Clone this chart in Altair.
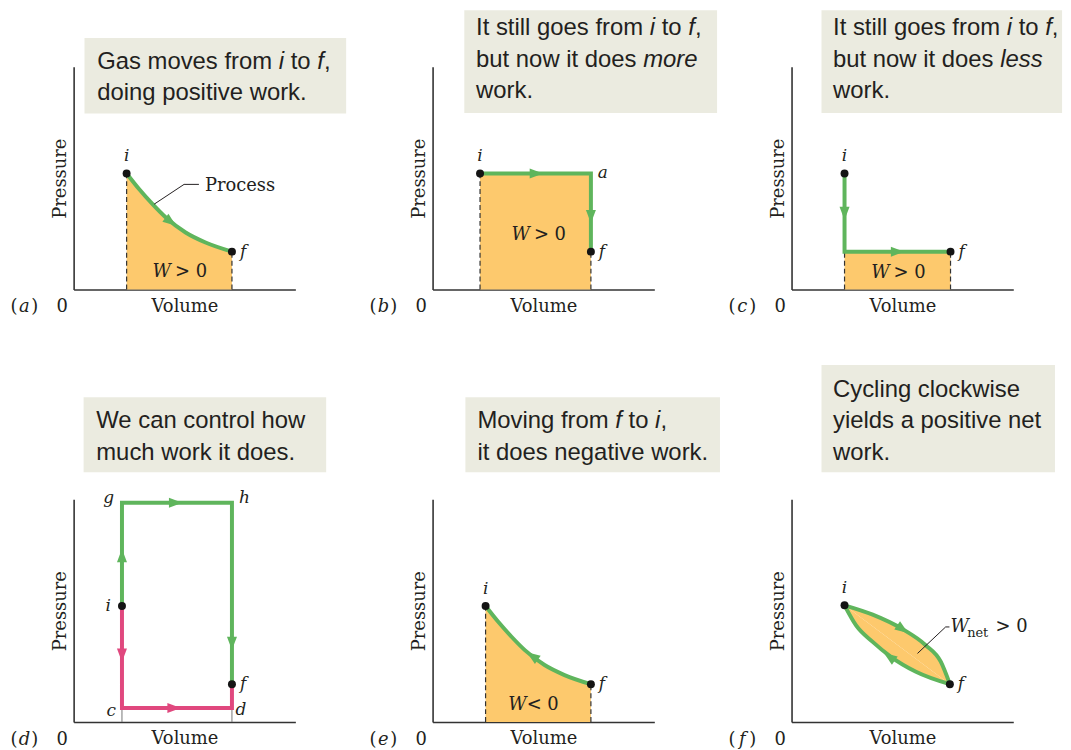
import altair as alt
import pandas as pd

# ------------------------------------------------------------------ data
PANELS = ["a", "b", "c", "d", "e", "f"]

# labelled states (Volume, Pressure in arbitrary units 0..10); dot drawn?
state_panel = ["a", "a", "b", "b", "b", "c", "c", "d", "d", "d", "d", "d", "d", "e", "e", "f", "f"]
state_name = ["i", "f", "i", "a", "f", "i", "f", "i", "f", "g", "h", "c", "d", "i", "f", "i", "f"]
state_V = [2.39, 7.14, 2.14, 7.14, 7.14, 2.39, 7.17, 2.18, 7.14, 2.18, 7.14, 2.18, 7.14, 2.39, 7.14, 2.39, 7.14]
state_P = [5.21, 1.70, 5.21, 5.21, 1.70, 5.21, 1.70, 5.21, 1.70, 9.85, 9.85, 0.63, 0.63, 5.21, 1.70, 5.24, 1.70]
state_dot = [1, 1, 1, 0, 1, 1, 1, 1, 1, 0, 0, 0, 0, 1, 1, 1, 1]

# curved process of panels (a) and (e)
iso_V = [2.39, 2.96, 3.56, 4.16, 5.05, 5.95, 7.14]
iso_P = [5.21, 4.50, 3.83, 3.23, 2.56, 2.11, 1.70]

# straight-segment processes (b), (c), (d)
path_panel = ["b", "b", "b", "c", "c", "c", "d", "d", "d", "d", "d", "d", "d", "d"]
path_id = ["b", "b", "b", "c", "c", "c", "dg", "dg", "dg", "dg", "dp", "dp", "dp", "dp"]
path_col = ["g", "g", "g", "g", "g", "g", "g", "g", "g", "g", "p", "p", "p", "p"]
path_V = [2.14, 7.14, 7.14, 2.39, 2.39, 7.17, 2.18, 2.18, 7.14, 7.14, 2.18, 2.18, 7.14, 7.14]
path_P = [5.21, 5.21, 1.70, 5.21, 1.70, 1.70, 5.21, 9.85, 9.85, 1.70, 5.21, 0.63, 0.63, 1.70]

# cycle of panel (f): upper branch i->f, lower branch f->i
cyc_up_V = [2.39, 3.66, 5.01, 6.05, 6.73, 7.14]
cyc_up_P = [5.24, 4.82, 4.17, 3.45, 2.71, 1.70]
cyc_lo_V = [2.39, 2.91, 3.66, 4.48, 5.61, 7.14]
cyc_lo_P = [5.24, 4.34, 3.60, 2.93, 2.26, 1.70]

# direction arrows (heading in degrees, clockwise from up)
arr_panel = ["a", "b", "b", "c", "c", "d", "d", "d", "d", "d", "e", "f", "f"]
arr_V = [4.38, 4.68, 7.14, 2.39, 4.78, 2.18, 4.60, 7.14, 2.18, 4.53, 4.50, 5.01, 4.41]
arr_P = [3.04, 5.21, 3.27, 3.42, 1.70, 7.47, 9.85, 3.53, 3.00, 0.63, 2.96, 4.17, 2.93]
arr_heading = [127, 90, 180, 180, 90, 0, 90, 180, 180, 90, 305, 125, 305]
arr_col = ["g", "g", "g", "g", "g", "g", "g", "g", "p", "p", "g", "g", "g"]

# rectangular work regions (b), (c)
wrect_panel = ["b", "c"]
wrect_V0 = [2.14, 2.39]
wrect_V1 = [7.14, 7.17]
wrect_P1 = [5.21, 1.70]

# projections down to the volume axis
proj_panel = ["a", "a", "b", "b", "c", "c", "e", "e", "d", "d"]
proj_V = [2.39, 7.14, 2.14, 7.14, 2.39, 7.17, 2.39, 7.14, 2.18, 7.14]
proj_P = [5.21, 1.70, 5.21, 1.70, 1.70, 1.70, 5.21, 1.70, 0.63, 0.63]
proj_dashed = [1, 1, 1, 1, 1, 1, 1, 1, 0, 0]

# caption texts (segment, italic?)
captions = {
    "a": [[("Gas moves from ", 0), ("i", 1), (" to ", 0), ("f", 1), (",", 0)],
          [("doing positive work.", 0)]],
    "b": [[("It still goes from ", 0), ("i", 1), (" to ", 0), ("f", 1), (",", 0)],
          [("but now it does ", 0), ("more", 1)],
          [("work.", 0)]],
    "c": [[("It still goes from ", 0), ("i", 1), (" to ", 0), ("f", 1), (",", 0)],
          [("but now it does ", 0), ("less", 1)],
          [("work.", 0)]],
    "d": [[("We can control how", 0)],
          [("much work it does.", 0)]],
    "e": [[("Moving from ", 0), ("f", 1), (" to ", 0), ("i", 1), (",", 0)],
          [("it does negative work.", 0)]],
    "f": [[("Cycling clockwise", 0)],
          [("yields a positive net", 0)],
          [("work.", 0)]],
}

# work labels: panel, italic part, rest
work_label_panel = ["a", "b", "c", "e"]
work_label_rest = ["> 0", "> 0", "> 0", "< 0"]

# ------------------------------------------------------------------ layout / style
W, H = 223, 224
XU, YU = W / 10.0, H / 10.0          # px per unit

INK = "#231f20"
GREEN = "#5fb55c"
PINK = "#e0487e"
ORANGE = "#fdc96d"
BOXBG = "#ebebe0"
AXISC = "#333333"
DOT = "#141414"
COLS = {"g": GREEN, "p": PINK}
SANS = "Liberation Sans"
SERIF = "DejaVu Serif"

# caption boxes (x0, x1, y0, y1) and first text line anchor (x, baseline y)
BOX = {
    "a": (0.49, 12.29, 7.90, 11.29), "b": (1.43, 12.83, 7.92, 12.54),
    "c": (1.35, 12.20, 7.92, 12.54), "d": (0.45, 11.39, 11.22, 14.58),
    "e": (1.48, 12.96, 11.22, 14.58), "f": (1.35, 11.88, 11.22, 16.03),
}
CAP_ANCHOR = {"a": (1.06, 9.92), "b": (1.96, 11.42), "c": (1.87, 11.42),
              "d": (1.02, 13.20), "e": (2.02, 13.20), "f": (1.87, 14.61)}
LINE_STEP = 31.7 / YU
WORK_LABEL_POS = {"a": (4.75, 0.55), "b": (4.75, 2.23), "c": (4.78, 0.52), "e": (4.60, 0.55)}
LABEL_OFF = {  # align, dx px, dy px (baseline)
    ("d", "i"): ("right", -11, 5), ("d", "g"): ("right", -8, 0), ("d", "h"): ("left", 7, 0),
    ("d", "c"): ("right", -6, 8), ("d", "d"): ("left", 3.5, 7), ("b", "a"): ("left", 7, 5),
}

HELV = {' ': 278, ',': 278, '.': 278, 'a': 556, 'b': 556, 'c': 500, 'd': 556, 'e': 556,
        'f': 278, 'g': 556, 'h': 556, 'i': 222, 'j': 222, 'k': 500, 'l': 222, 'm': 833,
        'n': 556, 'o': 556, 'p': 556, 'q': 556, 'r': 333, 's': 500, 't': 278, 'u': 556,
        'v': 500, 'w': 722, 'x': 500, 'y': 500, 'z': 500, 'C': 722, 'G': 778, 'I': 278,
        'M': 833, 'W': 944}


def helv(s, size=24):
    return sum(HELV.get(ch, 556) for ch in s) * size / 1000.0


# ------------------------------------------------------------------ tables
states = pd.DataFrame(dict(panel=state_panel, label=state_name, V=state_V, P=state_P,
                           has_dot=state_dot))
paths = pd.DataFrame(dict(panel=path_panel, pid=path_id, V=path_V, P=path_P,
                          col=[COLS[c] for c in path_col]))
paths["ord"] = range(len(paths))
arrows = pd.DataFrame(dict(panel=arr_panel, V=arr_V, P=arr_P, ang=arr_heading,
                           col=[COLS[c] for c in arr_col]))
wrects = pd.DataFrame(dict(panel=wrect_panel, V0=wrect_V0, V1=wrect_V1, P0=0.0, P1=wrect_P1))
projs = pd.DataFrame(dict(panel=proj_panel, V=proj_V, P=proj_P, P0=0.0, dashed=proj_dashed))
iso = pd.DataFrame(dict(V=iso_V, P=iso_P))
iso["ord"] = range(len(iso))
cyc = pd.concat([
    pd.DataFrame(dict(V=cyc_up_V, P=cyc_up_P, br="up")),
    pd.DataFrame(dict(V=cyc_lo_V, P=cyc_lo_P, br="lo")),
], ignore_index=True)
cyc["ord"] = range(len(cyc))
boxes = pd.DataFrame([dict(panel=p, x0=b[0], x1=b[1], y0=b[2], y1=b[3]) for p, b in BOX.items()])

leaders = pd.DataFrame(dict(
    panel=["a", "a", "a", "f", "f", "f"], lid=["a", "a", "a", "f", "f", "f"],
    V=[3.63, 4.98, 5.65, 5.68, 6.95, 7.12], P=[3.83, 4.72, 4.72, 3.08, 4.27, 4.27]))
leaders["ord"] = range(len(leaders))

texts = []


def add_text(panel, x, y, text, font, size, style="normal", align="left"):
    texts.append(dict(panel=panel, x=x, y=y, text=text, font=font, size=size,
                      style=style, align=align))


# captions
for p, lines in captions.items():
    x0, y0 = CAP_ANCHOR[p]
    for li, segs in enumerate(lines):
        y = y0 - li * LINE_STEP
        pre = ""
        for s, it in segs:
            lead = len(s) - len(s.lstrip(" "))
            xx = x0 + helv(pre + s[:lead]) / XU
            add_text(p, xx, y, s.strip(" "), SANS, 24, "italic" if it else "normal")
            pre += s

# state labels
for _, r in states.iterrows():
    key = (r["panel"], r["label"])
    if key in LABEL_OFF:
        al, dx, dy = LABEL_OFF[key]
    elif r["label"] == "i":
        al, dx, dy = "center", 0, -12.5
    else:
        al, dx, dy = "left", 8, 5
    add_text(r["panel"], r["V"] + dx / XU, r["P"] - dy / YU, r["label"], SERIF, 17, "italic", al)

# work labels
for p, rest in zip(work_label_panel, work_label_rest):
    cx, cy = WORK_LABEL_POS[p]
    add_text(p, cx - 8 / XU, cy, "W", SERIF, 18, "italic", "right")
    add_text(p, cx - (4 if rest.startswith(">") else 8) / XU, cy, rest, SERIF, 18, "normal", "left")
add_text("f", 7.17, 4.05, "W", SERIF, 18, "italic", "left")
add_text("f", 7.92, 3.84, "net", SERIF, 13, "normal", "left")
add_text("f", 9.20, 4.05, "> 0", SERIF, 18, "normal", "left")
add_text("a", 5.92, 4.42, "Process", SERIF, 18, "normal", "left")

# panel letters and origin zero
for p in PANELS:
    yb = -22.7 / YU
    add_text(p, -60 / XU, yb, "(", SERIF, 18, "normal", "center")
    add_text(p, -49.5 / XU, yb, p, SERIF, 18, "italic", "center")
    add_text(p, -39 / XU, yb, ")", SERIF, 18, "normal", "center")
    add_text(p, -11.5 / XU, yb, "0", SERIF, 18, "normal", "center")

texts = pd.DataFrame(texts)

# ------------------------------------------------------------------ chart
SX = alt.Scale(domain=[0, 10], nice=False, zero=False)
SY = alt.Scale(domain=[0, 10], nice=False, zero=False)
AXX = alt.Axis(title="Volume", ticks=False, labels=False, grid=False, domainColor=AXISC,
               domainWidth=1.6, titleFont=SERIF, titleFontSize=18, titleFontWeight="normal",
               titleColor=INK, titlePadding=8)
AXY = alt.Axis(title="Pressure", ticks=False, labels=False, grid=False, domainColor=AXISC,
               domainWidth=1.6, titleFont=SERIF, titleFontSize=18, titleFontWeight="normal",
               titleColor=INK, titlePadding=4)


def X(f):
    return alt.X(f"{f}:Q", scale=SX, axis=AXX)


def Y(f):
    return alt.Y(f"{f}:Q", scale=SY, axis=AXY)


ARROW = "M0,-1L0.75,1L-0.75,1Z"


def panel(p):
    L = []
    L.append(alt.Chart(boxes[boxes["panel"] == p]).mark_rect(color=BOXBG).encode(
        x=X("x0"), x2="x1", y=Y("y0"), y2="y1"))
    # work region
    if p in ("a", "e"):
        L.append(alt.Chart(iso).mark_area(color=ORANGE, opacity=1, interpolate="monotone").encode(
            x=X("V"), y=Y("P")))
    if p in ("b", "c"):
        L.append(alt.Chart(wrects[wrects["panel"] == p]).mark_rect(color=ORANGE).encode(
            x=X("V0"), x2="V1", y=Y("P0"), y2="P1"))
    if p == "f":
        L.append(alt.Chart(cyc).mark_line(fill=ORANGE, stroke=ORANGE, strokeWidth=1.5,
                                          interpolate="monotone").encode(
            x=X("V"), y=Y("P"), detail="br:N", order="ord:Q"))
    # projections
    pr = projs[projs["panel"] == p]
    if len(pr[pr["dashed"] == 1]):
        L.append(alt.Chart(pr[pr["dashed"] == 1]).mark_rule(color=AXISC, strokeDash=[5, 3],
                                                            strokeWidth=1.2).encode(
            x=X("V"), y=Y("P0"), y2="P"))
    if len(pr[pr["dashed"] == 0]):
        L.append(alt.Chart(pr[pr["dashed"] == 0]).mark_rule(color="#777777", strokeWidth=1).encode(
            x=X("V"), y=Y("P0"), y2="P"))
    # process lines
    if p in ("a", "e"):
        L.append(alt.Chart(iso).mark_line(color=GREEN, strokeWidth=4, interpolate="monotone").encode(
            x=X("V"), y=Y("P"), order="ord:Q"))
    if p == "f":
        L.append(alt.Chart(cyc).mark_line(color=GREEN, strokeWidth=4, interpolate="monotone").encode(
            x=X("V"), y=Y("P"), detail="br:N", order="ord:Q"))
    pa = paths[paths["panel"] == p]
    if len(pa):
        L.append(alt.Chart(pa).mark_line(strokeWidth=4, strokeJoin="miter").encode(
            x=X("V"), y=Y("P"), detail="pid:N", order="ord:Q",
            color=alt.Color("col:N", scale=None)))
    # arrows
    L.append(alt.Chart(arrows[arrows["panel"] == p]).mark_point(
        shape=ARROW, filled=True, size=180, opacity=1).encode(
        x=X("V"), y=Y("P"), angle=alt.Angle("ang:Q", scale=None),
        color=alt.Color("col:N", scale=None)))
    # dots
    st = states[(states["panel"] == p) & (states["has_dot"] == 1)]
    L.append(alt.Chart(st).mark_circle(size=64, color=DOT, opacity=1).encode(
        x=X("V"), y=Y("P")))
    # leaders
    ld = leaders[leaders["panel"] == p]
    if len(ld):
        L.append(alt.Chart(ld).mark_line(color=INK, strokeWidth=1).encode(
            x=X("V"), y=Y("P"), order="ord:Q"))
    # texts
    tx = texts[texts["panel"] == p]
    for (font, size, style, align), g in tx.groupby(["font", "size", "style", "align"]):
        L.append(alt.Chart(g).mark_text(font=font, fontSize=float(size), fontStyle=style,
                                        align=align, baseline="alphabetic", color=INK).encode(
            x=X("x"), y=Y("y"), text="text:N"))
    return alt.layer(*L).properties(width=W, height=H)


chart = alt.concat(
    *[panel(p) for p in PANELS], columns=3,
    spacing={"row": 211, "column": 138}, bounds="flush",
).properties(
    padding={"left": 2, "top": 0, "right": 0, "bottom": 0},
    background="white",
).configure_view(strokeWidth=0)

chart.save("out.html", embed_options={"renderer": "svg", "actions": False})
